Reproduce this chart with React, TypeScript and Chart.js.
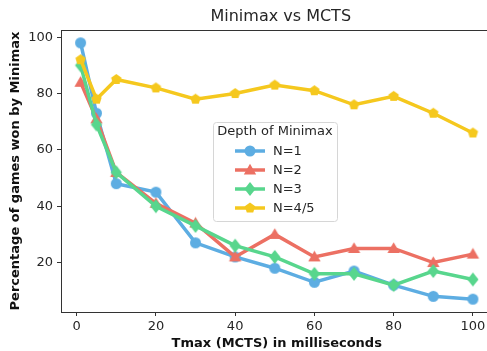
import React, { useEffect, useRef } from "react";
import { Chart, registerables } from "chart.js";
Chart.register(...registerables);

const xValues = [1, 5, 10, 20, 30, 40, 50, 60, 70, 80, 90, 100];
const n1Values = [98, 73, 48, 45, 27, 22, 18, 13, 17, 12, 8, 7];
const n2Values = [84, 71, 52, 41, 34, 22, 30, 22, 25, 25, 20, 23];
const n3Values = [90, 69, 52, 40, 33, 26, 22, 16, 16, 12, 17, 14];
const n45Values = [92, 78, 85, 82, 78, 80, 83, 81, 76, 79, 73, 66];
const seriesLabels = ["N=1", "N=2", "N=3", "N=4/5"];
const xTicks = [0, 20, 40, 60, 80, 100];
const yTicks = [20, 40, 60, 80, 100];
const chartTitle = "Minimax vs MCTS";
const legendTitle = "Depth of Minimax";
const xLabel = "Tmax (MCTS) in milliseconds";
const yLabel = "Percentage of games won by Minimax";

const COLORS = ["#5DADE2", "#EC7063", "#58D68D", "#F5C81E"];
const MARKERS = ["circle", "triangle", "diamond", "pentagon"];
const RADII = [5.5, 6.5, 7, 5.5];
const FONT = "'DejaVu Sans', sans-serif";
const TEXT = "#262626";

function shapePath(ctx: CanvasRenderingContext2D, kind: string, x: number, y: number, r: number) {
  ctx.beginPath();
  if (kind === "circle") {
    ctx.arc(x, y, r, 0, Math.PI * 2);
  } else if (kind === "triangle") {
    for (let i = 0; i < 3; i++) {
      const a = -Math.PI / 2 + (i * 2 * Math.PI) / 3;
      const px = x + r * 1.1 * Math.cos(a);
      const py = y + r * 1.1 * Math.sin(a) + r * 0.15;
      if (i === 0) ctx.moveTo(px, py);
      else ctx.lineTo(px, py);
    }
  } else if (kind === "diamond") {
    ctx.moveTo(x, y - r);
    ctx.lineTo(x + r * 0.8, y);
    ctx.lineTo(x, y + r);
    ctx.lineTo(x - r * 0.8, y);
  } else {
    for (let i = 0; i < 5; i++) {
      const a = -Math.PI / 2 + (i * 2 * Math.PI) / 5;
      const px = x + r * Math.cos(a);
      const py = y + r * Math.sin(a);
      if (i === 0) ctx.moveTo(px, py);
      else ctx.lineTo(px, py);
    }
  }
  ctx.closePath();
}

function makeMarker(kind: string, r: number, color: string) {
  const s = Math.ceil(r * 2 + 4);
  const c = document.createElement("canvas");
  c.width = s;
  c.height = s;
  const ctx = c.getContext("2d")!;
  ctx.fillStyle = color;
  shapePath(ctx, kind, s / 2, s / 2, r);
  ctx.fill();
  return c;
}

const decorPlugin = {
  id: "decor",
  afterDraw(chart: any) {
    const ctx: CanvasRenderingContext2D = chart.ctx;
    const area = chart.chartArea;
    ctx.save();
    // top and right spines
    ctx.strokeStyle = "#333";
    ctx.lineWidth = 1;
    ctx.beginPath();
    ctx.moveTo(area.left, area.top + 0.5);
    ctx.lineTo(area.right, area.top + 0.5);
    ctx.moveTo(area.right - 0.5, area.top);
    ctx.lineTo(area.right - 0.5, area.bottom);
    ctx.stroke();

    // title
    ctx.fillStyle = TEXT;
    ctx.font = `16px ${FONT}`;
    ctx.textAlign = "center";
    ctx.textBaseline = "middle";
    ctx.fillText(chartTitle, (area.left + area.right) / 2 + 4, 17);

    // legend
    const bx = 213, by = 122, bw = 124, bh = 99;
    ctx.fillStyle = "rgba(255,255,255,0.85)";
    ctx.strokeStyle = "#d6d6d6";
    ctx.lineWidth = 1;
    ctx.beginPath();
    (ctx as any).roundRect(bx + 0.5, by + 0.5, bw, bh, 3);
    ctx.fill();
    ctx.stroke();

    ctx.fillStyle = TEXT;
    ctx.font = `13px ${FONT}`;
    ctx.textAlign = "center";
    ctx.fillText(legendTitle, bx + bw / 2, by + 10);

    seriesLabels.forEach((lab, i) => {
      const y = by + 29 + i * 19;
      ctx.strokeStyle = COLORS[i];
      ctx.lineWidth = 3.5;
      ctx.beginPath();
      ctx.moveTo(bx + 22, y);
      ctx.lineTo(bx + 52, y);
      ctx.stroke();
      ctx.fillStyle = COLORS[i];
      shapePath(ctx, MARKERS[i], bx + 37, y, RADII[i]);
      ctx.fill();
      ctx.fillStyle = TEXT;
      ctx.textAlign = "left";
      ctx.fillText(lab, bx + 60, y + 1);
    });
    ctx.restore();
  },
};

export default function App() {
  const ref = useRef<HTMLCanvasElement | null>(null);
  useEffect(() => {
    const seriesValues = [n1Values, n2Values, n3Values, n45Values];
    const datasets = seriesValues.map((vals, i) => ({
      label: seriesLabels[i],
      data: xValues.map((x, j) => ({ x, y: vals[j] })),
      borderColor: COLORS[i],
      backgroundColor: COLORS[i],
      borderWidth: 3.5,
      pointStyle: makeMarker(MARKERS[i], RADII[i], COLORS[i]),
      pointRadius: RADII[i],
      pointHoverRadius: RADII[i],
      tension: 0,
      order: 4 - i,
    }));
    const tickFont = { family: FONT, size: 13 };
    const chart = new Chart(ref.current!, {
      type: "line",
      data: { datasets },
      options: {
        animation: false,
        responsive: false,
        devicePixelRatio: 1,
        layout: { padding: { top: 30, right: 3, left: 0, bottom: 0 } },
        plugins: { legend: { display: false }, tooltip: { enabled: false } },
        scales: {
          x: {
            type: "linear",
            min: -3.95,
            max: 104.95,
            afterBuildTicks: (s: any) => {
              s.ticks = xTicks.map((v) => ({ value: v }));
            },
            afterFit: (s: any) => {
              s.height = 39;
            },
            grid: { drawOnChartArea: false, drawTicks: true, tickLength: 4, color: "#333" },
            border: { color: "#333", width: 1 },
            ticks: { font: tickFont, color: TEXT, padding: 3, maxRotation: 0, autoSkip: false },
            title: {
              display: true,
              text: xLabel,
              font: { family: FONT, size: 13, weight: "bold" },
              color: "#111",
              padding: { top: 0, bottom: 0 },
            },
          },
          y: {
            type: "linear",
            min: 2.45,
            max: 102.55,
            afterBuildTicks: (s: any) => {
              s.ticks = yTicks.map((v) => ({ value: v }));
            },
            afterFit: (s: any) => {
              s.width = 61;
            },
            grid: { drawOnChartArea: false, drawTicks: true, tickLength: 4, color: "#333" },
            border: { color: "#333", width: 1 },
            ticks: { font: tickFont, color: TEXT, padding: 4, autoSkip: false },
            title: {
              display: true,
              text: yLabel,
              font: { family: FONT, size: 13, weight: "bold" },
              color: "#111",
              padding: { top: 8, bottom: 0 },
            },
          },
        },
      } as any,
      plugins: [decorPlugin],
    });
    return () => chart.destroy();
  }, []);
  return (
    <div style={{ position: "fixed", left: 0, top: 0, width: 503, height: 351, background: "#fff" }}>
      <canvas ref={ref} width={503} height={351} style={{ display: "block" }} />
    </div>
  );
}
